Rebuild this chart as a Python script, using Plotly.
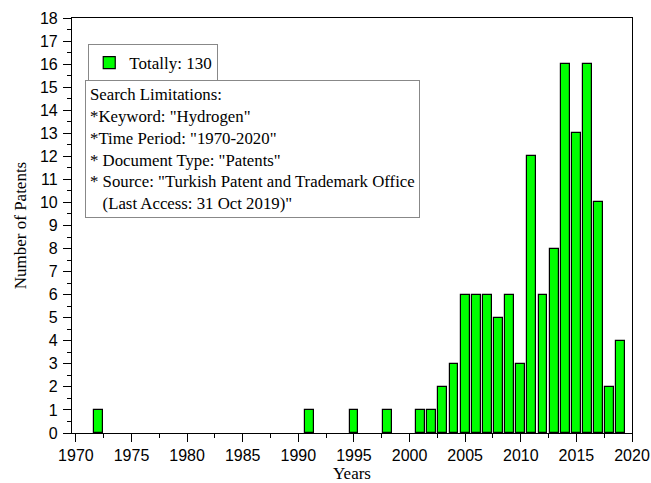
import plotly.graph_objects as go

years = [1972, 1991, 1995, 1998, 2001, 2002, 2003, 2004, 2005, 2006, 2007, 2008,
         2009, 2010, 2011, 2012, 2013, 2014, 2015, 2016, 2017, 2018, 2019]
patents = [1, 1, 1, 1, 1, 1, 2, 3, 6, 6, 6, 5, 6, 3, 12, 6, 8, 16, 13, 16, 10, 2, 4]
x_ticks = [1970, 1975, 1980, 1985, 1990, 1995, 2000, 2005, 2010, 2015, 2020]
y_ticks = list(range(0, 19))
legend_name = "Totally: 130"
note_lines = [
    'Search Limitations:',
    '*Keyword: "Hydrogen"',
    '*Time Period: "1970-2020"',
    '* Document Type: "Patents"',
    '* Source: "Turkish Patent and Trademark Office',
    '   (Last Access: 31 Oct 2019)"',
]

serif = "Liberation Serif, Times New Roman, serif"
sans = "Liberation Sans, Arial, sans-serif"

fig = go.Figure()
fig.add_trace(go.Bar(
    x=years, y=patents, name=legend_name, width=0.8,
    marker=dict(color="#00ff00", line=dict(color="black", width=1.2)),
    showlegend=True,
))

fig.update_layout(
    width=651, height=483,
    margin=dict(l=72, r=19, t=18, b=50),
    plot_bgcolor="white", paper_bgcolor="white",
    showlegend=True,
    legend=dict(x=0.029, y=0.937, xanchor="left", yanchor="top",
                bordercolor="#888888", borderwidth=1, bgcolor="white",
                font=dict(family=serif, size=17, color="black"),
                itemwidth=30, tracegroupgap=0),
    bargap=0,
    annotations=[dict(
        x=0.023, y=0.85, xref="paper", yref="paper", xanchor="left", yanchor="top",
        text="<br>".join(note_lines), align="left", showarrow=False,
        font=dict(family=serif, size=16.8, color="black"),
        bordercolor="#888888", borderwidth=1, borderpad=4, bgcolor="white",
    )],
)

fig.update_xaxes(
    range=[1969.65, 2020], tickvals=x_ticks, ticks="outside", ticklen=8,
    tickwidth=1, tickcolor="black", automargin=False,
    minor=dict(dtick=2.5, tick0=1970, ticks="outside", ticklen=4, tickcolor="black"),
    showline=True, linecolor="black", linewidth=1.2, mirror=True,
    showgrid=False, zeroline=False,
    tickfont=dict(family=sans, size=16, color="black"),
    title=dict(text="Years", font=dict(family=serif, size=17, color="black"), standoff=10),
)
fig.update_yaxes(
    range=[0, 18], tickvals=y_ticks, ticks="outside", ticklen=8,
    tickwidth=1, tickcolor="black", automargin=False, ticklabelstandoff=2,
    minor=dict(dtick=0.5, tick0=0, ticks="outside", ticklen=4, tickcolor="black"),
    showline=True, linecolor="black", linewidth=1.2, mirror=True,
    showgrid=False, zeroline=False,
    tickfont=dict(family=sans, size=16, color="black"),
    title=dict(text="Number of Patents", font=dict(family=serif, size=17, color="black"), standoff=8),
)

fig.write_html("out.html", config={"displayModeBar": False},
               post_script="document.body.style.margin='0px';")
